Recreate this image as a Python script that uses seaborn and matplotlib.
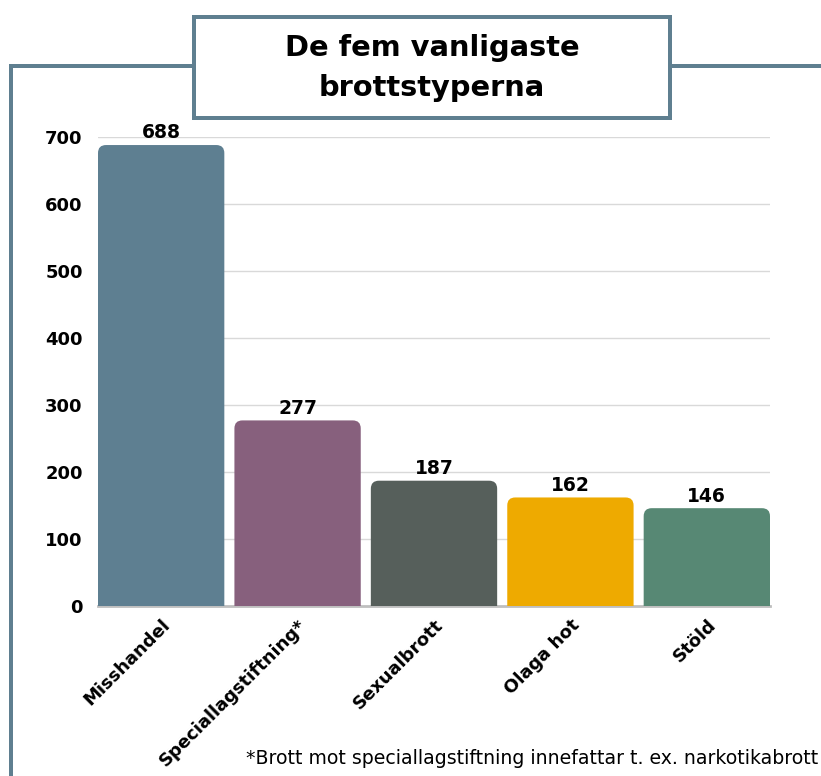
import numpy as np
import pandas as pd
import matplotlib
matplotlib.use("Agg")
import matplotlib.pyplot as plt
from matplotlib.patches import FancyBboxPatch, Rectangle
from matplotlib.lines import Line2D
import seaborn as sns

categories = ["Misshandel", "Speciallagstiftning*", "Sexualbrott", "Olaga hot", "Stöld"]
counts = [688, 277, 187, 162, 146]
colors = ["#5E7F91", "#87607D", "#565F5B", "#EEAA00", "#578874"]
title = "De fem vanligaste\nbrottstyperna"
footnote = "*Brott mot speciallagstiftning innefattar t. ex. narkotikabrott"
frame_col = "#5F7F90"

sns.set_theme(style="white")
plt.rcParams['font.family'] = ['DejaVu Sans']
plt.rcParams['text.color'] = 'black'
plt.rcParams['xtick.color'] = 'black'
plt.rcParams['ytick.color'] = 'black'

df = pd.DataFrame({"typ": categories, "antal": counts})

W, H = 821, 776
fig = plt.figure(figsize=(W / 100, H / 100), dpi=100)
ax = fig.add_axes([98 / W, 1 - 606 / H, (770 - 98) / W, (606 - 137) / H])

bw = 0.926
sns.barplot(data=df, x="typ", y="antal", hue="typ", palette=colors, legend=False,
            width=bw, saturation=1, ax=ax, zorder=3)

ax.set_xlim(-bw / 2, len(categories) - 1 + bw / 2)
ax.set_ylim(0, 700)
ax.set_yticks(range(0, 701, 100))
ax.yaxis.grid(True, color="#D9D9D9", linewidth=1, zorder=0)
ax.set_axisbelow(True)
for s in ["top", "right", "left"]:
    ax.spines[s].set_visible(False)
ax.spines["bottom"].set_color("#BFBFBF")
ax.spines["bottom"].set_linewidth(2)
ax.spines["bottom"].set_zorder(1)
ax.set_xlabel("")
ax.set_ylabel("")
ax.tick_params(axis="y", length=0, pad=11, labelsize=13)
ax.tick_params(axis="x", length=0, pad=7, labelsize=13)
for lab in ax.get_yticklabels():
    lab.set_fontweight("bold")
for lab in ax.get_xticklabels():
    lab.set_fontweight("bold")
    lab.set_rotation(45)
    lab.set_ha("right")
    lab.set_rotation_mode("anchor")

# replace bars by rounded ones (top corners only visible)
px_x = (770 - 98) / (len(categories) - 1 + bw)
px_y = (606 - 137) / 700
r = 8 / px_x
for p, c in zip(list(ax.patches), colors):
    x0, w, h = p.get_x(), p.get_width(), p.get_height()
    p.set_visible(False)
    fb = FancyBboxPatch((x0, -30), w, h + 30,
                        boxstyle=f"round,pad=0,rounding_size={r}",
                        mutation_aspect=px_x / px_y, facecolor=c,
                        edgecolor="none", zorder=3)
    ax.add_patch(fb)
    ax.text(x0 + w / 2, h + 4, f"{h:.0f}", ha="center", va="bottom",
            fontsize=13.5, fontweight="bold", color="black", zorder=4)

# outer frame lines
lw = 4 * 72 / 100
fig.add_artist(Line2D([11 / W, 11 / W], [0, 1 - 66 / H], color=frame_col,
                      linewidth=lw, solid_capstyle="projecting"))
fig.add_artist(Line2D([11 / W, 1], [1 - 66 / H, 1 - 66 / H], color=frame_col,
                      linewidth=lw, solid_capstyle="projecting"))

# title box
fig.add_artist(Rectangle((194 / W, 1 - 118 / H), (670 - 194) / W, (118 - 17) / H,
                         facecolor="white", edgecolor=frame_col, linewidth=lw,
                         zorder=5))
fig.text(432 / W, 1 - 68 / H, title, ha="center", va="center", fontsize=20.8,
         fontweight="bold", linespacing=1.55, color="black", zorder=6)

fig.text(818 / W, 1 - 758 / H, footnote, ha="right", va="center", fontsize=13.6,
         color="black")

fig.savefig("out.png", dpi=100)
